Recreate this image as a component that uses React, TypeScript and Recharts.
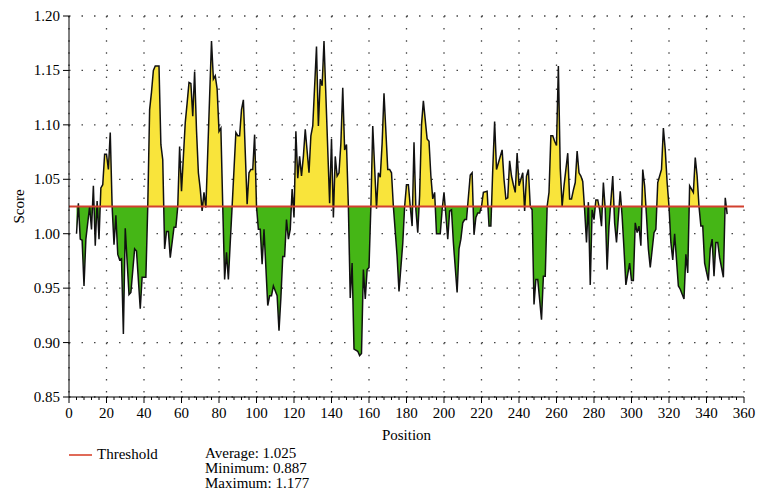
import React from 'react';
import { ComposedChart, Area, XAxis, YAxis, CartesianGrid, ReferenceLine } from 'recharts';

const positions = [
  4, 5, 6, 7, 8, 9, 11, 12, 13, 14, 15, 16, 17, 18, 19, 20, 21, 22, 23, 24, 25, 26, 27, 28, 29, 30, 32, 33, 35, 36, 38, 39, 41, 42, 43, 44, 45, 46, 47, 48, 49, 50,
  51, 52, 53, 54, 56, 57, 58, 59, 60, 62, 63, 64, 65, 66, 67, 68, 69, 70, 71, 72, 73, 76, 77, 78, 79, 80, 81, 82, 83, 84, 85, 86, 87, 89, 90, 91, 92, 93, 94, 95, 96, 97, 98, 99, 100,
  101, 102, 103, 104, 106, 107, 108, 109, 111, 112, 113, 114, 115, 116, 117, 118, 119, 120, 121, 122, 123, 124, 125, 126, 128, 129, 130, 132, 133, 134, 135, 136, 137, 139, 140,
  141, 142, 143, 144, 145, 146, 147, 148, 149, 150, 151, 152, 154, 155, 156, 157, 158, 159, 160, 161, 162, 164, 165, 166, 167, 168, 170, 171, 172, 173, 175, 176, 178, 179, 180,
  181, 182, 183, 184, 185, 186, 187, 188, 189, 191, 192, 193, 194, 195, 196, 198, 199, 200, 201, 202, 203, 204, 205, 207, 208, 209, 210, 211, 212, 214, 215, 216, 217, 218, 219, 220,
  221, 223, 224, 225, 226, 227, 228, 229, 231, 232, 233, 234, 235, 236, 237, 238, 239, 240, 241, 242, 243, 244, 245, 246, 247, 248, 249, 250, 252, 253, 254, 255, 256, 257, 258, 259, 260,
  261, 262, 263, 264, 266, 267, 268, 269, 270, 271, 272, 273, 274, 275, 276, 277, 278, 279, 280, 281, 282, 283, 284, 285, 286, 287, 288, 290, 291, 292, 294, 295, 296, 297, 299, 300,
  301, 302, 303, 304, 305, 306, 307, 308, 309, 310, 312, 313, 314, 315, 316, 317, 318, 319, 320, 321, 322, 323, 325, 326, 328, 329, 330, 331, 333, 334, 335, 336, 337, 338, 339,
  341, 342, 343, 344, 345, 346, 347, 349, 350, 351,
];

const scores = [
  1.000, 1.028, 0.995, 0.994, 0.952, 0.995, 1.025, 1.004, 1.044, 0.989, 1.030, 0.995, 1.042, 1.045, 1.073, 1.073, 1.059, 1.093, 1.025, 0.990, 1.017, 0.981, 0.976, 0.977, 0.908, 1.005, 0.944, 0.946, 0.986, 0.984, 0.931, 0.960, 0.960, 1.025, 1.114, 1.130, 1.150, 1.154, 1.154, 1.154, 1.082, 1.068,
  0.986, 1.002, 1.002, 0.978, 1.006, 1.006, 1.025, 1.080, 1.039, 1.102, 1.120, 1.139, 1.138, 1.108, 1.149, 1.095, 1.056, 1.041, 1.021, 1.038, 1.024, 1.177, 1.142, 1.145, 1.133, 1.094, 1.097, 1.025, 0.958, 0.983, 0.958, 0.992, 1.025, 1.093, 1.090, 1.090, 1.114, 1.123, 1.075, 1.027, 1.056, 1.059, 1.059, 1.091, 1.025,
  1.004, 1.004, 0.972, 1.004, 0.934, 0.943, 0.943, 0.952, 0.943, 0.911, 0.941, 0.979, 0.979, 1.013, 0.995, 1.004, 1.041, 1.015, 1.094, 1.051, 1.071, 1.053, 1.071, 1.096, 1.056, 1.090, 1.099, 1.172, 1.099, 1.142, 1.136, 1.177, 1.127, 1.028, 1.087,
  1.015, 1.071, 1.053, 1.056, 1.083, 1.134, 1.077, 1.082, 1.025, 0.941, 0.973, 0.894, 0.892, 0.888, 0.890, 0.967, 0.940, 0.967, 0.969, 1.025, 1.099, 1.023, 1.056, 1.052, 1.083, 1.129, 1.059, 1.059, 1.056, 1.025, 0.979, 0.947, 0.991, 1.025, 1.045,
  1.045, 1.025, 1.007, 1.084, 1.022, 1.001, 1.035, 1.100, 1.122, 1.087, 1.085, 1.053, 1.032, 1.038, 1.000, 1.000, 1.022, 1.038, 1.017, 0.995, 1.021, 1.022, 0.992, 0.946, 0.986, 0.995, 1.010, 1.013, 1.013, 1.054, 1.056, 0.999, 1.015, 1.019, 1.019, 1.025,
  1.038, 1.039, 1.007, 1.007, 1.059, 1.103, 1.059, 1.065, 1.077, 1.050, 1.032, 1.033, 1.067, 1.053, 1.045, 1.038, 1.074, 1.044, 1.050, 1.056, 1.021, 1.053, 1.059, 1.025, 1.022, 0.935, 0.958, 0.958, 0.921, 0.961, 0.961, 1.025, 1.038, 1.090, 1.090, 1.085, 1.081,
  1.154, 1.060, 1.025, 1.044, 1.074, 1.032, 1.032, 1.040, 1.047, 1.076, 1.056, 1.053, 1.048, 1.022, 0.992, 1.029, 0.953, 1.022, 1.013, 1.031, 1.031, 1.022, 1.007, 1.047, 1.022, 0.967, 1.007, 1.053, 1.010, 0.992, 1.039, 1.016, 0.986, 0.953, 0.973, 0.957,
  0.957, 1.010, 1.001, 1.007, 0.989, 1.059, 1.044, 1.016, 0.986, 0.969, 1.001, 1.004, 1.047, 1.053, 1.059, 1.097, 1.077, 1.047, 1.025, 0.992, 0.976, 1.000, 0.952, 0.949, 0.940, 0.981, 0.964, 1.044, 1.038, 1.070, 1.053, 1.025, 1.007, 1.007, 0.973,
  0.957, 0.986, 0.995, 0.961, 0.992, 0.992, 0.978, 0.960, 1.033, 1.018,
];

const THRESHOLD = 1.025;
const legendLabel = 'Threshold';
const statLabels = ['Average: 1.025', 'Minimum: 0.887', 'Maximum: 1.177'];
const yTicks = [0.85, 0.9, 0.95, 1.0, 1.05, 1.1, 1.15, 1.2];
const xLabelTicks = [0, 20, 40, 60, 80, 100, 120, 140, 160, 180, 200, 220, 240, 260, 280, 300, 320, 340, 360];
const xMinorStep = 4;
const xAllTicks = Array.from({ length: 360 / xMinorStep + 1 }, (_, i) => i * xMinorStep);

const data = positions.map((pos, i) => ({ pos, score: scores[i] }));
const maxS = Math.max(...scores);
const minS = Math.min(...scores);
const splitOffset = (maxS - THRESHOLD) / (maxS - minS);

const FONT = "'Liberation Serif', 'Times New Roman', serif";
const FS = 15;
const YELLOW = '#f9e43b';
const GREEN = '#45b616';
const RED = '#d2402f';

function XTick(props: any) {
  const { x, y, payload } = props;
  const v = payload.value;
  const major = xLabelTicks.includes(v);
  return (
    <g>
      <line x1={x} x2={x} y1={y} y2={y + (major ? 6 : 3)} stroke="#000" strokeWidth={1} />
      {major && (
        <text x={x} y={y + 21} textAnchor="middle" style={{ fontFamily: FONT, fontSize: FS }} fill="#000">
          {v}
        </text>
      )}
    </g>
  );
}

function YTick(props: any) {
  const { x, y, payload } = props;
  return (
    <text x={x} y={y} dy={5} textAnchor="end" style={{ fontFamily: FONT, fontSize: FS }} fill="#000">
      {Number(payload.value).toFixed(2)}
    </text>
  );
}

function ScoreLabel(props: any) {
  const vb = props.viewBox || { x: 0, y: 16, width: 69, height: 381 };
  const cx = vb.x + 19;
  const cy = vb.y + vb.height / 2;
  return (
    <text
      x={cx}
      y={cy}
      transform={`rotate(-90 ${cx} ${cy})`}
      textAnchor="middle"
      dominantBaseline="central"
      style={{ fontFamily: FONT, fontSize: FS }}
      fill="#000"
    >
      Score
    </text>
  );
}

function PositionLabel(props: any) {
  const vb = props.viewBox || { x: 69, y: 397, width: 675, height: 50 };
  const cx = vb.x + vb.width / 2;
  return (
    <text x={cx} y={vb.y + 43} textAnchor="middle" style={{ fontFamily: FONT, fontSize: FS }} fill="#000">
      Position
    </text>
  );
}

export default function App() {
  return (
    <div
      style={{
        position: 'absolute',
        left: 0,
        top: 0,
        width: 757,
        height: 496,
        background: '#fff',
        fontFamily: FONT,
        fontSize: FS,
      }}
    >
      <ComposedChart width={757} height={496} data={data} margin={{ top: 16, right: 13, left: 0, bottom: 49 }}>
        <defs>
          <linearGradient id="thresholdSplit" x1="0" y1="0" x2="0" y2="1">
            <stop offset={splitOffset} stopColor={YELLOW} />
            <stop offset={splitOffset} stopColor={GREEN} />
          </linearGradient>
        </defs>
        <CartesianGrid horizontal vertical={false} stroke="#444" strokeWidth={1.3} strokeDasharray="1.5 11" />
        <CartesianGrid
          vertical
          horizontal={false}
          verticalValues={xLabelTicks}
          stroke="#444"
          strokeWidth={1.3}
          strokeDasharray="1.5 10.6"
        />
        <XAxis
          dataKey="pos"
          type="number"
          domain={[0, 360]}
          ticks={xAllTicks}
          interval={0}
          tickSize={0}
          tickMargin={0}
          tickLine={false}
          tick={<XTick />}
          height={50}
          axisLine={{ stroke: '#000' }}
          allowDataOverflow
          label={<PositionLabel />}
        />
        <XAxis
          xAxisId="top"
          orientation="top"
          type="number"
          domain={[0, 360]}
          tick={false}
          tickLine={false}
          height={0}
          axisLine={{ stroke: '#000' }}
        />
        <YAxis
          type="number"
          domain={[0.85, 1.2]}
          ticks={yTicks}
          interval={0}
          allowDataOverflow
          width={69}
          tickSize={6}
          tickMargin={3}
          axisLine={{ stroke: '#000' }}
          tickLine={{ stroke: '#000' }}
          tick={<YTick />}
          label={<ScoreLabel />}
        />
        <YAxis
          yAxisId="right"
          orientation="right"
          type="number"
          domain={[0.85, 1.2]}
          tick={false}
          tickLine={false}
          width={0}
          axisLine={{ stroke: '#000' }}
        />
        <Area
          type="linear"
          dataKey="score"
          baseValue={THRESHOLD}
          stroke="#111"
          strokeWidth={1.5}
          fill="url(#thresholdSplit)"
          fillOpacity={1}
          dot={false}
          activeDot={false}
          isAnimationActive={false}
        />
        <ReferenceLine y={THRESHOLD} stroke={RED} strokeWidth={2} />
      </ComposedChart>
      <div style={{ position: 'absolute', left: 69, top: 454, width: 23, height: 2, background: '#e06a58' }} />
      <div style={{ position: 'absolute', left: 97, top: 446, fontFamily: FONT, fontSize: FS, lineHeight: '16px', color: '#000' }}>
        {legendLabel}
      </div>
      <div style={{ position: 'absolute', left: 205, top: 446, fontFamily: FONT, fontSize: FS, lineHeight: '15px', color: '#000' }}>
        {statLabels.map((s) => (
          <div key={s}>{s}</div>
        ))}
      </div>
    </div>
  );
}
